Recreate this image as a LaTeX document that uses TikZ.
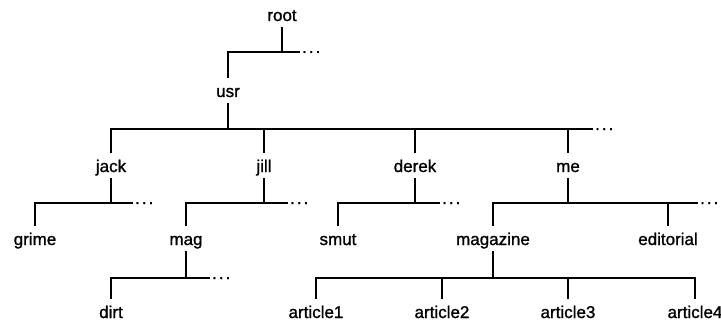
\documentclass[tikz,border=0pt]{standalone}
\usepackage{fontspec}
\setmainfont{Liberation Sans}
\newfontfamily\lblfont{Liberation Sans}[FakeBold=1.2]
\begin{document}
\begin{tikzpicture}[x=1pt,y=-1pt,
  lbl/.style={anchor=base, inner sep=0pt, text height=19pt, text depth=6pt, font=\lblfont\fontsize{17}{20}\selectfont},
  more/.style={anchor=base west, inner sep=0pt, font=\lblfont\fontsize{17}{20}\selectfont},
  tree/.style={line width=1.7pt}]
\useasboundingbox (0,0) rectangle (721,321);
% nodes
\node[lbl] (root) at (282,21) {root};
\node[lbl] (usr) at (228,97) {usr};
\node[lbl] (jack) at (111,172) {jack};
\node[lbl] (jill) at (264,172) {jill};
\node[lbl] (derek) at (415,172) {derek};
\node[lbl] (me) at (568,172) {me};
\node[lbl] (grime) at (35,245) {grime};
\node[lbl] (mag) at (186,245) {mag};
\node[lbl] (smut) at (338,245) {smut};
\node[lbl] (magazine) at (493,245) {magazine};
\node[lbl] (editorial) at (668,245) {editorial};
\node[lbl] (dirt) at (111,318) {dirt};
\node[lbl] (a1) at (316,318) {article1};
\node[lbl] (a2) at (442,318) {article2};
\node[lbl] (a3) at (568,318) {article3};
\node[lbl] (a4) at (695,318) {article4};
% line ends and ellipses
\coordinate (e1) at (300,52);
\coordinate (e2) at (593,129);
\coordinate (e3) at (133,203);
\coordinate (e4) at (288,203);
\coordinate (e5) at (440,203);
\coordinate (e6) at (698,203);
\coordinate (e7) at (210,278);
\coordinate (h8) at (0,278);
\node[more] (m1) at (302,53) {.\kern2pt.\kern2pt.};
\node[more] (m2) at (595,130) {.\kern2pt.\kern2pt.};
\node[more] (m3) at (135,204) {.\kern2pt.\kern2pt.};
\node[more] (m4) at (290,204) {.\kern2pt.\kern2pt.};
\node[more] (m5) at (442,204) {.\kern2pt.\kern2pt.};
\node[more] (m6) at (700,204) {.\kern2pt.\kern2pt.};
\node[more] (m7) at (212,279) {.\kern2pt.\kern2pt.};
% root
\draw[tree] (root.south) -- (root.south |- e1);
\draw[tree] (usr.north) |- (e1);
% usr
\draw[tree] (usr.south) -- (usr.south |- e2);
\draw[tree] (jack.north) |- (e2);
\draw[tree] (jill.north) -- (jill.north |- e2);
\draw[tree] (derek.north) -- (derek.north |- e2);
\draw[tree] (me.north) -- (me.north |- e2);
% jack
\draw[tree] (jack.south) -- (jack.south |- e3);
\draw[tree] (grime.north) |- (e3);
% jill
\draw[tree] (jill.south) -- (jill.south |- e4);
\draw[tree] (mag.north) |- (e4);
% derek
\draw[tree] (derek.south) -- (derek.south |- e5);
\draw[tree] (smut.north) |- (e5);
% me
\draw[tree] (me.south) -- (me.south |- e6);
\draw[tree] (magazine.north) |- (e6);
\draw[tree] (editorial.north) -- (editorial.north |- e6);
% mag
\draw[tree] (mag.south) -- (mag.south |- e7);
\draw[tree] (dirt.north) |- (e7);
% magazine
\draw[tree] (a1.north) |- (a4.north |- h8) -- (a4.north);
\draw[tree] (magazine.south) -- (magazine.south |- h8);
\draw[tree] (a2.north) -- (a2.north |- h8);
\draw[tree] (a3.north) -- (a3.north |- h8);
\end{tikzpicture}
\end{document}
